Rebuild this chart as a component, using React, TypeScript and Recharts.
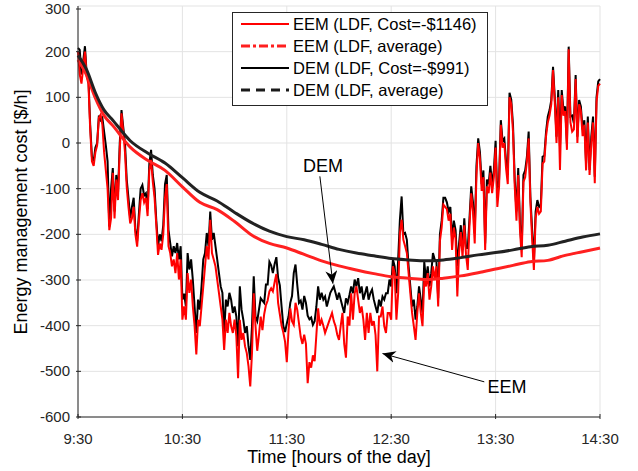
import React from 'react';
import { LineChart, Line, XAxis, YAxis, CartesianGrid, Legend, ReferenceLine, ReferenceDot } from 'recharts';

// minutes after 9:30, one sample per minute
const minutes = Array.from({ length: 301 }, (_, i) => i);

const eemCost = [
  200, 150, 130, 165, 200, 145, 130, 30, -40, -50,
  -20, -5, 55, 62, 40, -20, -60, -100, -191, -165,
  -65, -165, -80, -125, -15, 65, 25, -20, -96, -140,
  -176, -165, -140, -200, -227, -170, -125, -110, -130, -120,
  -160, -60, -37, -85, -120, -180, -245, -220, -234, -200,
  -120, -90, -226, -241, -270, -255, -285, -241, -299, -255,
  -387, -358, -387, -285, -328, -299, -358, -400, -463, -387,
  -401, -358, -314, -270, -226, -255, -168, -241, -255, -270,
  -299, -328, -358, -387, -453, -387, -416, -372, -401, -416,
  -387, -423, -515, -387, -431, -416, -445, -460, -489, -533,
  -460, -329, -400, -455, -420, -380, -410, -375, -355, -345,
  -325, -318, -325, -305, -287, -350, -375, -400, -415, -435,
  -480, -410, -362, -390, -398, -350, -365, -395, -425, -440,
  -420, -440, -526, -480, -492, -465, -478, -420, -362, -400,
  -387, -400, -416, -405, -394, -383, -372, -390, -401, -420,
  -431, -400, -372, -440, -470, -380, -400, -329, -387, -329,
  -314, -343, -372, -358, -387, -431, -372, -416, -372, -400,
  -390, -420, -500, -380, -380, -358, -401, -416, -372, -372,
  -387, -270, -285, -387, -329, -197, -168, -212, -226, -241,
  -285, -329, -372, -401, -431, -372, -329, -372, -401, -300,
  -314, -285, -343, -314, -270, -299, -270, -358, -215, -185,
  -135, -140, -145, -170, -155, -234, -185, -210, -336, -240,
  -195, -250, -180, -245, -278, -180, -110, -150, -220, -70,
  0, -35, -105, -75, -234, -95, -110, -65, -110, -75,
  -10, -140, -95, 40, -10, 0, -55, -90, 100, 85,
  25, -95, -170, -70, -190, -250, -85, -75, -40, 10,
  -130, -210, -278, -165, -140, -155, -150, -45, -40, 15,
  45, 60, 85, 160, 90, 0, 100, -59, 105, 60,
  70, -15, 205, 45, 25, 30, 140, 0, 85, 70,
  15, 40, -60, 45, -70, 0, 45, -88, 90, 125,
  130,
];

const demCost = [
  208, 204, 150, 180, 212, 150, 140, 40, -30, -40,
  -10, 0, 60, 50, 55, 25, -5, -40, -183, -100,
  -55, -150, -70, -110, 0, 72, 35, 0, -80, -120,
  -165, -140, -120, -190, -215, -155, -100, -92, -115, -110,
  -145, -45, -15, -70, -100, -170, -225, -200, -215, -180,
  -90, -70, -190, -219, -248, -226, -241, -219, -255, -226,
  -343, -330, -358, -241, -277, -255, -300, -358, -416, -343,
  -365, -314, -255, -241, -197, -226, -150, -212, -197, -226,
  -255, -285, -314, -328, -416, -343, -358, -328, -343, -372,
  -358, -380, -445, -314, -365, -387, -416, -401, -445, -475,
  -401, -292, -380, -390, -365, -340, -345, -350, -310, -310,
  -260, -268, -285, -265, -250, -295, -312, -358, -401, -414,
  -395, -380, -350, -335, -285, -266, -310, -350, -345, -365,
  -335, -350, -378, -386, -382, -398, -390, -358, -314, -343,
  -328, -343, -336, -358, -343, -328, -321, -314, -328, -343,
  -328, -343, -358, -372, -340, -350, -333, -314, -329, -299,
  -314, -296, -329, -314, -343, -329, -314, -343, -329, -321,
  -343, -358, -372, -343, -358, -336, -343, -329, -329, -299,
  -314, -255, -270, -329, -255, -168, -117, -200, -197, -212,
  -270, -314, -358, -343, -387, -358, -314, -343, -372, -260,
  -299, -270, -314, -285, -241, -255, -260, -340, -200, -170,
  -120, -120, -130, -150, -140, -210, -170, -191, -270, -220,
  -180, -234, -165, -230, -230, -165, -95, -130, -198, -50,
  10, -20, -90, -60, -220, -80, -90, -50, -90, -60,
  5, -120, -80, 50, 5, 10, -40, -70, 110, 95,
  40, -81, -150, -55, -176, -234, -70, -60, -30, 25,
  -118, -190, -260, -150, -125, -140, -135, -30, -28, 25,
  58, 72, 94, 167, 101, 14, 116, -8, 116, 72,
  80, -1, 211, 58, 60, 43, 149, 14, 94, 80,
  30, 50, -45, 58, -59, 14, 58, -74, 100, 135,
  140,
];

const avgMinutes = [0, 5, 10, 15, 20, 30, 40, 50, 60, 70, 80, 90, 100, 110, 120, 130, 140, 150, 160, 170, 180, 190, 200, 210, 220, 230, 240, 250, 260, 270, 280, 290, 300];
const eemAvg = [182, 148, 98, 60, 38, -9, -38, -60, -96, -130, -146, -172, -202, -220, -230, -244, -258, -269, -278, -286, -293, -296, -299, -296, -291, -284, -276, -268, -260, -257, -246, -238, -230];
const demAvg = [192, 160, 110, 72, 50, 5, -22, -44, -76, -108, -127, -152, -175, -193, -205, -212, -222, -233, -241, -247, -253, -256, -258, -256, -251, -245, -240, -234, -227, -224, -215, -206, -199];

const timeTicks = [0, 60, 120, 180, 240, 300];
const timeLabels = ['9:30', '10:30', '11:30', '12:30', '13:30', '14:30'];
const costTicks = [-600, -500, -400, -300, -200, -100, 0, 100, 200, 300];

const costData = minutes.map((t, i) => ({ t, eem: eemCost[i], dem: demCost[i] }));
const avgData = avgMinutes.map((t, i) => ({ t, eemAvg: eemAvg[i], demAvg: demAvg[i] }));

const FONT = '"Liberation Sans", Arial, Helvetica, sans-serif';
const AXIS = '#262626';

const legendItems = [
  { label: 'EEM (LDF, Cost=-$1146)', color: '#ff0000', width: 2, dash: undefined },
  { label: 'EEM (LDF, average)', color: '#ff1f1f', width: 3, dash: '9 3 3 3' },
  { label: 'DEM (LDF, Cost=-$991)', color: '#000000', width: 2, dash: undefined },
  { label: 'DEM (LDF, average)', color: '#1a1a1a', width: 3, dash: '9 6' },
];

const LegendBox = () => (
  <div
    style={{
      width: 254,
      height: 92,
      border: `1px solid ${AXIS}`,
      background: '#fff',
      fontFamily: FONT,
      fontSize: 16.5,
      color: '#000',
    }}
  >
    {legendItems.map((item) => (
      <div key={item.label} style={{ display: 'flex', alignItems: 'center', height: 22 }}>
        <svg width={60} height={22} style={{ flex: 'none' }}>
          <line x1={8} y1={11} x2={56} y2={11} stroke={item.color} strokeWidth={item.width} strokeDasharray={item.dash} />
        </svg>
        <span style={{ whiteSpace: 'nowrap', lineHeight: '22px' }}>{item.label}</span>
      </div>
    ))}
  </div>
);

const XTick = (props: any) => {
  const { x, y, index } = props;
  return (
    <g>
      <line x1={x} y1={y} x2={x} y2={y - 5} stroke={AXIS} />
      <text x={x} y={y + 25} textAnchor="middle" fontSize={15} fontFamily={FONT} fill={AXIS}>
        {timeLabels[index]}
      </text>
    </g>
  );
};

const YTick = (props: any) => {
  const { x, y, payload } = props;
  return (
    <g>
      <line x1={x} y1={y} x2={x + 5} y2={y} stroke={AXIS} />
      <text x={x - 6} y={y + 5} textAnchor="end" fontSize={15} fontFamily={FONT} fill={AXIS}>
        {payload.value}
      </text>
    </g>
  );
};

const TopTick = (props: any) => <line x1={props.x} y1={props.y} x2={props.x} y2={props.y + 5} stroke={AXIS} />;
const RightTick = (props: any) => <line x1={props.x} y1={props.y} x2={props.x - 5} y2={props.y} stroke={AXIS} />;

const arrowLine = (p: any) => (
  <line x1={p.x1} y1={p.y1} x2={p.x2} y2={p.y2} stroke="#000" strokeWidth={1} markerEnd="url(#arrowHead)" />
);

// annotation anchors (minutes, $/h)
const demNote = { text: { x: 140.8, y: -49 }, from: { x: 139, y: -73 }, to: { x: 146.5, y: -308 } };
const eemNote = { text: { x: 246.5, y: -533 }, from: { x: 233.5, y: -523 }, to: { x: 175, y: -461 } };

export default function App() {
  return (
    <div style={{ position: 'absolute', left: 0, top: 0, width: 638, height: 471, background: '#fff' }}>
      <LineChart width={638} height={471} data={costData} margin={{ top: 6, right: 38, bottom: 24, left: 20 }}>
        <defs>
          <marker id="arrowHead" markerWidth={14} markerHeight={12} refX={13} refY={6} orient="auto" markerUnits="userSpaceOnUse">
            <path d="M0,0 L13,6 L0,12 L4,6 Z" fill="#000" />
          </marker>
        </defs>
        <CartesianGrid stroke="#e3e3e3" strokeWidth={1} />
        <XAxis
          dataKey="t"
          type="number"
          domain={[0, 300]}
          ticks={timeTicks}
          height={30}
          stroke={AXIS}
          tickSize={0}
          tickLine={false}
          tick={<XTick />}
          label={{
            content: () => (
              <text x={339} y={463} textAnchor="middle" fontSize={18} fontFamily={FONT} fill="#000">
                Time [hours of the day]
              </text>
            ),
          }}
        />
        <XAxis xAxisId="top" orientation="top" type="number" domain={[0, 300]} ticks={timeTicks} height={0} stroke={AXIS} tickSize={0} tickLine={false} tick={<TopTick />} />
        <YAxis
          type="number"
          domain={[-600, 300]}
          ticks={costTicks}
          width={58}
          stroke={AXIS}
          tickSize={0}
          tickLine={false}
          tick={<YTick />}
          label={{
            content: () => (
              <text x={27} y={212} transform="rotate(-90 27 212)" textAnchor="middle" fontSize={18} fontFamily={FONT} fill="#000">
                Energy management cost [$/h]
              </text>
            ),
          }}
        />
        <YAxis yAxisId="right" orientation="right" type="number" domain={[-600, 300]} ticks={costTicks} width={0} stroke={AXIS} tickSize={0} tickLine={false} tick={<RightTick />} />
        <Line dataKey="dem" stroke="#000000" strokeWidth={2} dot={false} isAnimationActive={false} />
        <Line dataKey="eem" stroke="#ff0000" strokeWidth={2} dot={false} isAnimationActive={false} />
        <Line data={avgData} dataKey="eemAvg" type="monotone" stroke="#ff2020" strokeWidth={3} dot={false} isAnimationActive={false} />
        <Line data={avgData} dataKey="demAvg" type="monotone" stroke="#222222" strokeWidth={3} dot={false} isAnimationActive={false} />
        <ReferenceLine segment={[demNote.from, demNote.to]} shape={arrowLine} />
        <ReferenceLine segment={[eemNote.from, eemNote.to]} shape={arrowLine} />
        <ReferenceDot x={demNote.text.x} y={demNote.text.y} r={0} fill="none" stroke="none"
          label={{ value: 'DEM', position: 'center', fontSize: 18, fontFamily: FONT, fill: '#000' }} />
        <ReferenceDot x={eemNote.text.x} y={eemNote.text.y} r={0} fill="none" stroke="none"
          label={{ value: 'EEM', position: 'center', fontSize: 18, fontFamily: FONT, fill: '#000' }} />
        <Legend
          layout="vertical"
          align="center"
          verticalAlign="middle"
          wrapperStyle={{ left: 232, top: 12, width: 256 }}
          content={() => <LegendBox />}
        />
      </LineChart>
    </div>
  );
}
